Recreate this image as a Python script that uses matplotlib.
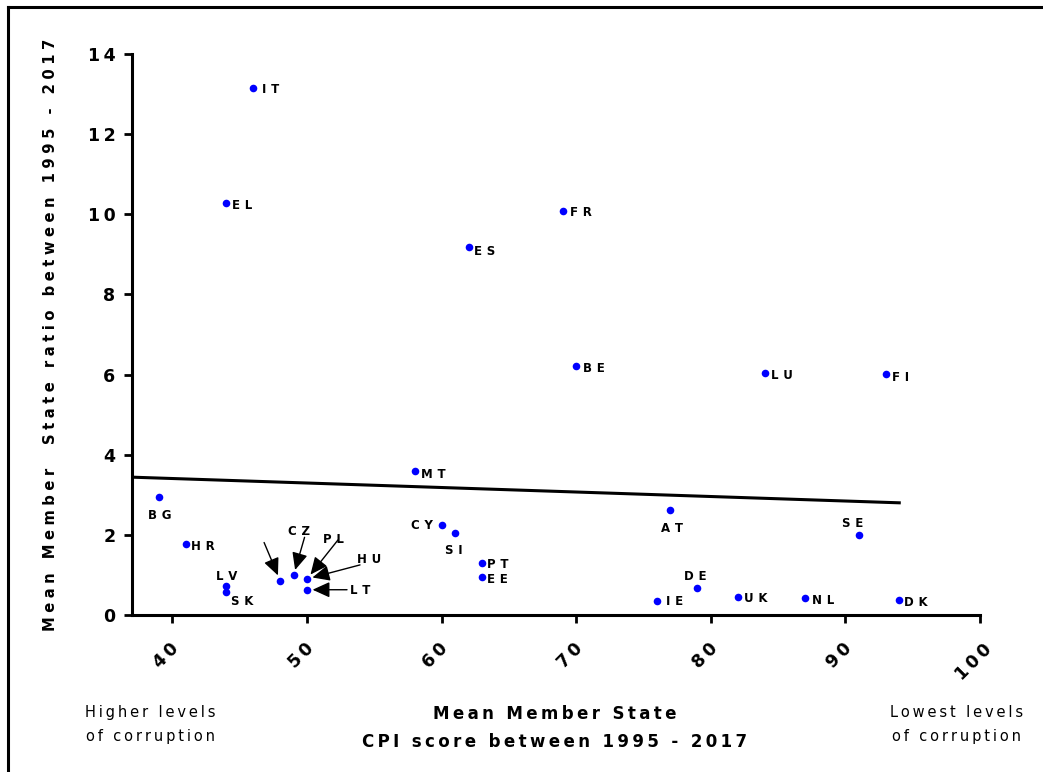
import numpy as np
import matplotlib
matplotlib.use('Agg')
import matplotlib.pyplot as plt
import matplotlib.transforms as mtransforms
from matplotlib.lines import Line2D

# mean CPI score 1995-2017 and mean member state ratio
countries = ['IT', 'EL', 'FR', 'ES', 'BE', 'LU', 'FI', 'MT', 'BG', 'HR',
             'CY', 'SI', 'AT', 'SE', 'PT', 'EE', 'LV', 'SK', '', 'CZ',
             'HU', 'LT', 'IE', 'DE', 'UK', 'NL', 'DK']
cpi = [46, 44, 69, 62, 70, 84, 93, 58, 39, 41,
       60, 61, 77, 91, 63, 63, 44, 44, 48, 49,
       50, 50, 76, 79, 82, 87, 94]
ratio = [13.15, 10.28, 10.08, 9.18, 6.21, 6.04, 6.01, 3.59, 2.94, 1.77,
         2.25, 2.05, 2.62, 2.00, 1.30, 0.95, 0.72, 0.57, 0.86, 0.99,
         0.90, 0.63, 0.35, 0.67, 0.45, 0.42, 0.37]

# fitted trend line as shown in the chart
fit_slope = -0.01123
fit_intercept = 3.855

x_ticks = [40, 50, 60, 70, 80, 90, 100]
y_ticks = [0, 2, 4, 6, 8, 10, 12, 14]

# label placement (offset in pixels, horizontal alignment)
label_pos = {
    'IT': (9, -1, 'left'), 'EL': (6, -2, 'left'), 'FR': (7, -1, 'left'),
    'ES': (5, -4, 'left'), 'BE': (7, -2, 'left'), 'LU': (6, -3, 'left'),
    'FI': (6, -3, 'left'), 'MT': (6, -3, 'left'), 'BG': (1, -18, 'center'),
    'HR': (5, -2, 'left'), 'CY': (-9, -1, 'right'), 'SI': (-1, -18, 'center'),
    'AT': (2, -18, 'center'), 'SE': (-6, 11, 'center'), 'PT': (5, -2, 'left'),
    'EE': (5, -3, 'left'), 'LV': (0, 10, 'center'), 'SK': (16, -9, 'center'),
    'IE': (9, -1, 'left'), 'DE': (-2, 12, 'center'), 'UK': (6, -2, 'left'),
    'NL': (7, -2, 'left'), 'DK': (5, -2, 'left'),
}
# crowded cluster: label, target point, label offset, arrow start offset
arrows = [
    ('', '', None, (-16, 38)),
    ('CZ', 'CZ', (5, 44), (11, 38)),
    ('PL', 'HU', (26, 39), (31, 39)),
    ('HU', 'HU', (62, 19), (53, 14)),
    ('LT', 'LT', (53, -1), (40, 0)),
]


def spaced(s, sep='\u2009'):
    return sep.join(s)


fig = plt.figure(figsize=(10.43, 7.72), dpi=100)
ax = fig.add_axes([0.1266, 0.2034, 0.8130, 0.7266])

ax.scatter(cpi, ratio, s=30, color='#0000ff', zorder=3, linewidths=0)

xl = np.array([37.0, max(cpi)])
ax.plot(xl, fit_slope * xl + fit_intercept, color='black', lw=2.2, zorder=2)

for name, x, y in zip(countries, cpi, ratio):
    if name in label_pos:
        dx, dy, ha = label_pos[name]
        ax.annotate(spaced(name, '\u2009\u2009'), (x, y), xytext=(dx, dy),
                    textcoords='offset pixels', ha=ha, va='center',
                    fontsize=8.5, fontweight='bold')

idx = {n: i for i, n in enumerate(countries)}
for lab, tgt, toff, aoff in arrows:
    pt = (cpi[idx[tgt]], ratio[idx[tgt]])
    ax.annotate('', pt, xytext=aoff, textcoords='offset pixels',
                arrowprops=dict(arrowstyle='-|>,head_length=0.55,head_width=0.25',
                                color='black', lw=1, mutation_scale=19,
                                shrinkA=0, shrinkB=4))
    if toff is not None:
        ax.annotate(spaced(lab, '\u2009\u2009'), pt, xytext=toff,
                    textcoords='offset pixels', ha='center', va='center',
                    fontsize=8.5, fontweight='bold')

ax.set_xlim(37.0, 100)
ax.set_ylim(0, 14)
ax.spines['top'].set_visible(False)
ax.spines['right'].set_visible(False)
ax.spines['left'].set_linewidth(2.2)
ax.spines['bottom'].set_linewidth(2.2)
ax.tick_params(direction='out', length=6, width=2, pad=6)
ax.tick_params(axis='x', pad=12)

ax.set_yticks(y_ticks)
ax.set_yticklabels([spaced(str(t)) for t in y_ticks], fontsize=12.5,
                   fontweight='bold')
ax.set_xticks(x_ticks)
ax.set_xticklabels([spaced(str(t)) for t in x_ticks], fontsize=12.5,
                   fontweight='bold', rotation=45, ha='center', va='top')
shift = mtransforms.ScaledTranslation(-6 / 100, 0, fig.dpi_scale_trans)
for t in ax.get_xticklabels():
    t.set_transform(t.get_transform() + shift)

ax.set_ylabel(spaced('Mean Member  State ratio between 1995 - 2017',
                     '\u2009\u200a'),
              fontsize=10.6, fontweight='bold')
ax.yaxis.set_label_coords(-0.087, 0.5)

fig.text(0.532, 0.057, spaced('Mean Member State') + '\n' +
         spaced('CPI score between 1995 - 2017'),
         ha='center', va='center', fontsize=12, fontweight='bold',
         linespacing=1.75)
fig.text(0.144, 0.061, spaced('Higher levels') + '\n' + spaced('of corruption'),
         ha='center', va='center', fontsize=10.5, linespacing=1.75)
fig.text(0.917, 0.061, spaced('Lowest levels') + '\n' + spaced('of corruption'),
         ha='center', va='center', fontsize=10.5, linespacing=1.75)

# frame edges of the original picture
fig.add_artist(Line2D([0.008, 1.0], [0.991, 0.991], color='black', lw=2.2,
                      transform=fig.transFigure))
fig.add_artist(Line2D([0.008, 0.008], [0.0, 0.991], color='black', lw=2.2,
                      transform=fig.transFigure))

fig.savefig('out.png', dpi=100)
